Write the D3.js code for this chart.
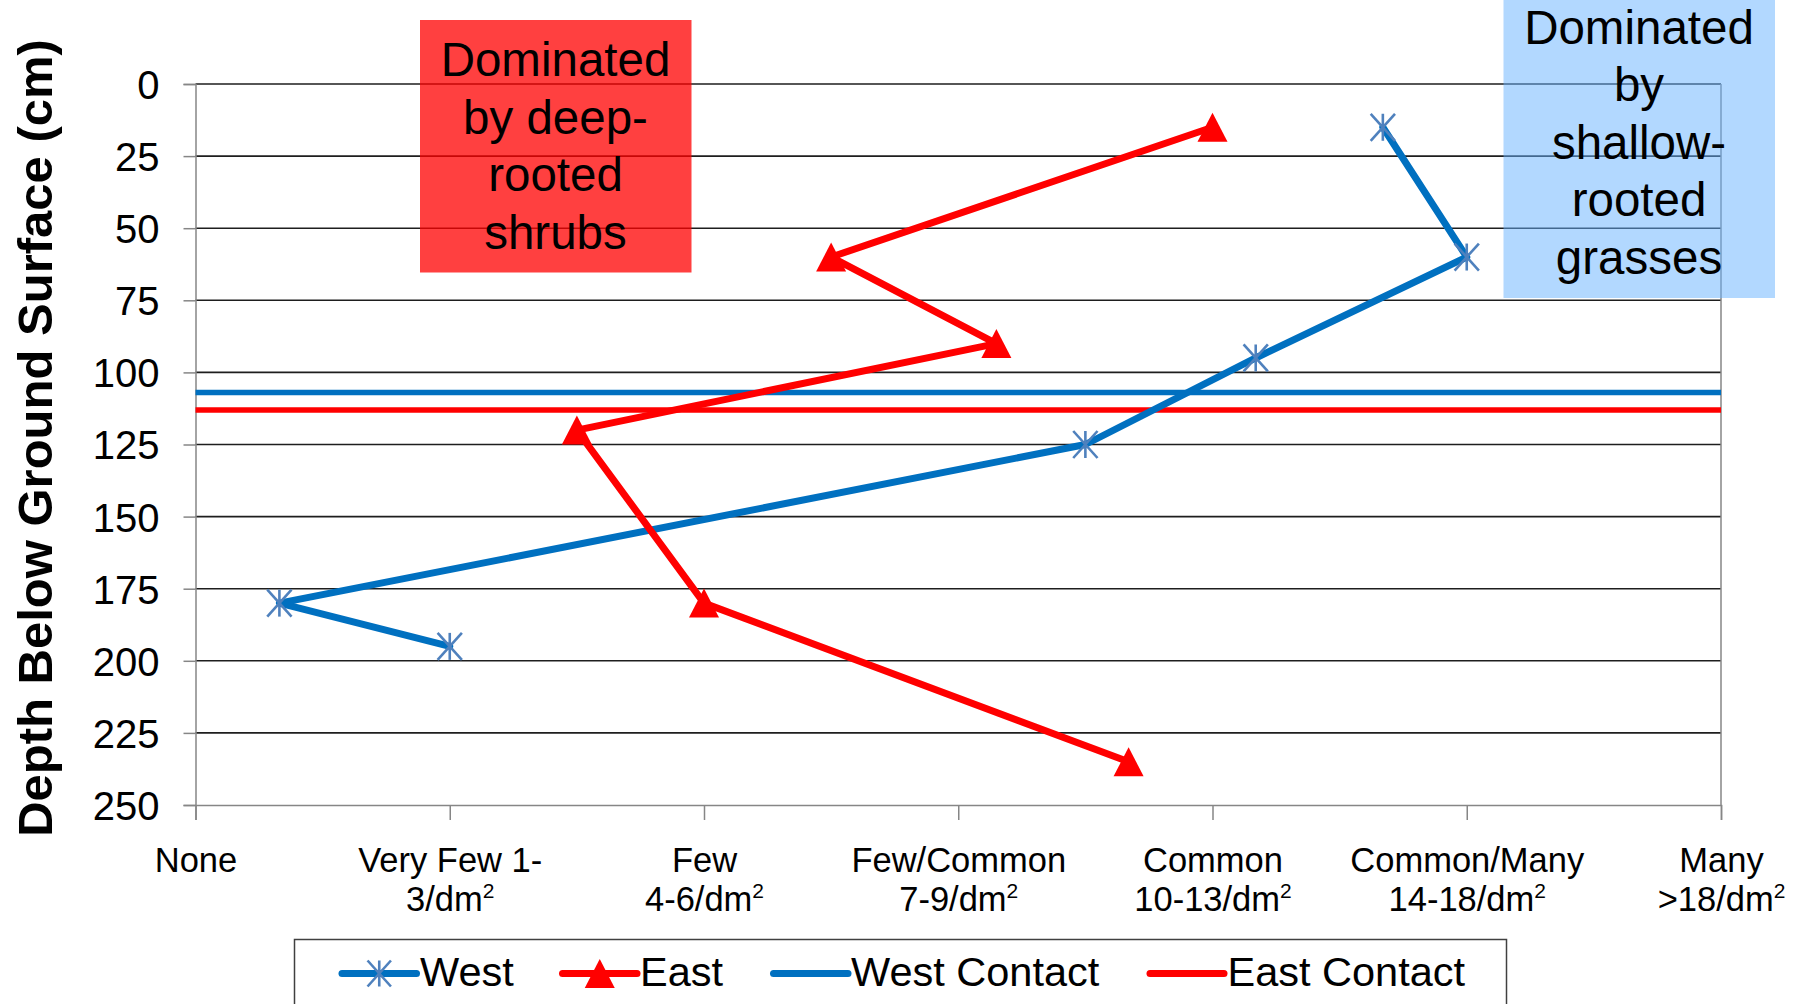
<!DOCTYPE html>
<html>
<head>
<meta charset="utf-8">
<script src="https://cdn.jsdelivr.net/npm/d3@7"></script>
<style>
  html, body { margin: 0; padding: 0; background: #fff; }
  svg { display: block; font-family: "Liberation Sans", Arial, sans-serif; }
</style>
</head>
<body>
<svg id="chart" width="1803" height="1004"></svg>
<script>
// Root abundance classes along the x axis (label lines for each class)
const abundanceClasses = [
  ["None"],
  ["Very Few 1-", "3/dm²"],
  ["Few", "4-6/dm²"],
  ["Few/Common", "7-9/dm²"],
  ["Common", "10-13/dm²"],
  ["Common/Many", "14-18/dm²"],
  ["Many", ">18/dm²"]
];

// Depth ticks (cm below ground surface)
const depthTicks = [0, 25, 50, 75, 100, 125, 150, 175, 200, 225, 250];

// West profile: depth (cm) and root abundance (class index)
const westDepth = [15, 60, 95, 125, 180, 195];
const westAbundance = [4.67, 5, 4.17, 3.5, 0.33, 1];

// East profile
const eastDepth = [15, 60, 90, 120, 180, 235];
const eastAbundance = [4, 2.5, 3.15, 1.5, 2, 3.67];

// Depth of the contact in each profile
const westContactDepth = 107;
const eastContactDepth = 113;

// Annotation texts
const shrubNote = ["Dominated", "by deep-", "rooted", "shrubs"];
const grassNote = ["Dominated", "by", "shallow-", "rooted", "grasses"];

const seriesNames = ["West", "East", "West Contact", "East Contact"];
const yTitle = "Depth Below Ground Surface (cm)";

// ---------------------------------------------------------------
const WEST = "#0070C0", WEST_MARK = "#4F81BD", EAST = "#FF0000";

const svg = d3.select("#chart");
const plot = { left: 195.5, right: 1721, top: 84, bottom: 805 };

const x = d3.scaleLinear().domain([0, abundanceClasses.length - 1]).range([plot.left, plot.right]);
const y = d3.scaleLinear().domain([0, 250]).range([plot.top, plot.bottom]);

// Horizontal gridlines
svg.append("g").selectAll("line")
  .data(depthTicks.filter(d => d < 250))
  .join("line")
  .attr("x1", plot.left).attr("x2", plot.right)
  .attr("y1", d => y(d)).attr("y2", d => y(d))
  .attr("stroke", "#1e1e1e").attr("stroke-width", 1.6);

// Right border of the plot area
svg.append("line")
  .attr("x1", plot.right).attr("x2", plot.right)
  .attr("y1", plot.top).attr("y2", plot.bottom)
  .attr("stroke", "#868686").attr("stroke-width", 1.5);

// Y axis
const yAxis = svg.append("g")
  .attr("transform", `translate(${plot.left},0)`)
  .call(d3.axisLeft(y).tickValues(depthTicks).tickSize(12).tickPadding(24).tickFormat(d3.format("d")));
yAxis.select(".domain").attr("stroke", "#868686").attr("stroke-width", 1.5);
yAxis.selectAll(".tick line").attr("stroke", "#868686").attr("stroke-width", 1.5);
yAxis.selectAll(".tick text")
  .attr("font-size", 40).attr("fill", "#000")
  .attr("font-family", "'Liberation Sans', Arial, sans-serif")
  .attr("dy", "0.36em");

// X axis
const xAxis = svg.append("g")
  .attr("transform", `translate(0,${plot.bottom})`)
  .call(d3.axisBottom(x).tickValues(d3.range(abundanceClasses.length)).tickSize(15).tickFormat(""));
xAxis.select(".domain").attr("stroke", "#868686").attr("stroke-width", 1.5);
xAxis.selectAll(".tick line").attr("stroke", "#868686").attr("stroke-width", 1.5);

// Multi-line class labels, "²" drawn as a raised small 2
xAxis.selectAll(".tick").each(function (d) {
  const t = d3.select(this).append("text")
    .attr("text-anchor", "middle")
    .attr("fill", "#000")
    .attr("font-size", 34.5)
    .attr("font-family", "'Liberation Sans', Arial, sans-serif");
  abundanceClasses[d].forEach((line, i) => {
    const base = i === 0 ? 67 : 106;
    const parts = line.split("²");
    t.append("tspan").attr("x", 0).attr("y", base).text(parts[0]);
    if (parts.length > 1) {
      t.append("tspan").attr("dy", -13).attr("font-size", 21).text("2");
    }
  });
});

// Y axis title
svg.append("text")
  .attr("transform", "translate(52,438) rotate(-90)")
  .attr("text-anchor", "middle")
  .attr("font-size", 49).attr("font-weight", "bold").attr("fill", "#000")
  .text(yTitle);

// Annotation boxes (translucent so the grid shows through)
svg.append("rect")
  .attr("x", 420).attr("y", 20).attr("width", 271.5).attr("height", 252.5)
  .attr("fill", "#FF0000").attr("fill-opacity", 0.75);
svg.append("rect")
  .attr("x", 1503.5).attr("y", 0).attr("width", 271.5).attr("height", 298)
  .attr("fill", "#66B2FF").attr("fill-opacity", 0.5);

// Contact lines
svg.append("line")
  .attr("x1", plot.left).attr("x2", plot.right)
  .attr("y1", y(westContactDepth)).attr("y2", y(westContactDepth))
  .attr("stroke", WEST).attr("stroke-width", 5.5);
svg.append("line")
  .attr("x1", plot.left).attr("x2", plot.right)
  .attr("y1", y(eastContactDepth)).attr("y2", y(eastContactDepth))
  .attr("stroke", EAST).attr("stroke-width", 5.5);

// Series
const westPts = westDepth.map((d, i) => [westAbundance[i], d]);
const eastPts = eastDepth.map((d, i) => [eastAbundance[i], d]);
const line = d3.line().x(p => x(p[0])).y(p => y(p[1]));

svg.append("path").attr("d", line(westPts))
  .attr("fill", "none").attr("stroke", WEST).attr("stroke-width", 7)
  .attr("stroke-linejoin", "round").attr("stroke-linecap", "round");
svg.append("path").attr("d", line(eastPts))
  .attr("fill", "none").attr("stroke", EAST).attr("stroke-width", 7)
  .attr("stroke-linejoin", "round").attr("stroke-linecap", "round");

// Asterisk marker (X plus vertical bar)
function star(g, cx, cy, r) {
  const s = g.append("g").attr("transform", `translate(${cx},${cy})`)
    .attr("stroke", WEST_MARK).attr("stroke-width", 2.6).attr("fill", "none");
  s.append("line").attr("x1", 0).attr("x2", 0).attr("y1", -r).attr("y2", r);
  s.append("line").attr("x1", -r * 0.9).attr("x2", r * 0.9).attr("y1", -r).attr("y2", r);
  s.append("line").attr("x1", -r * 0.9).attr("x2", r * 0.9).attr("y1", r).attr("y2", -r);
}
function tri(g, cx, cy, w, h) {
  g.append("path")
    .attr("d", `M${cx},${cy - h / 2}L${cx + w / 2},${cy + h / 2}L${cx - w / 2},${cy + h / 2}Z`)
    .attr("fill", EAST);
}
const marks = svg.append("g");
westPts.forEach(p => star(marks, x(p[0]), y(p[1]), 13.5));
eastPts.forEach(p => tri(marks, x(p[0]), y(p[1]), 30, 29));

// Annotation texts
function note(lines, cx, firstBaseline) {
  const t = svg.append("text").attr("text-anchor", "middle")
    .attr("font-size", 47.5).attr("fill", "#000");
  lines.forEach((l, i) => t.append("tspan").attr("x", cx).attr("y", firstBaseline + i * 57.5).text(l));
}
note(shrubNote, 555.5, 76);
note(grassNote, 1639, 43.5);

// Legend
const legend = svg.append("g");
legend.append("rect")
  .attr("x", 294.5).attr("y", 939.5).attr("width", 1212).attr("height", 80)
  .attr("fill", "#fff").attr("stroke", "#404040").attr("stroke-width", 1.5);

const legendItems = [
  { name: seriesNames[0], color: WEST, x0: 342, x1: 416.5, tx: 420, mark: "star" },
  { name: seriesNames[1], color: EAST, x0: 562.5, x1: 637, tx: 640, mark: "tri" },
  { name: seriesNames[2], color: WEST, x0: 773.5, x1: 848, tx: 851, mark: null },
  { name: seriesNames[3], color: EAST, x0: 1150, x1: 1224, tx: 1227.5, mark: null }
];
const ly = 973.5;
legendItems.forEach(it => {
  legend.append("line")
    .attr("x1", it.x0).attr("x2", it.x1).attr("y1", ly).attr("y2", ly)
    .attr("stroke", it.color).attr("stroke-width", 7).attr("stroke-linecap", "round");
  const cx = (it.x0 + it.x1) / 2;
  if (it.mark === "star") star(legend, cx, ly, 13);
  if (it.mark === "tri") tri(legend, cx, ly, 30, 29);
  legend.append("text")
    .attr("x", it.tx).attr("y", 986)
    .attr("font-size", 41.5).attr("fill", "#000")
    .text(it.name);
});
</script>
</body>
</html>
